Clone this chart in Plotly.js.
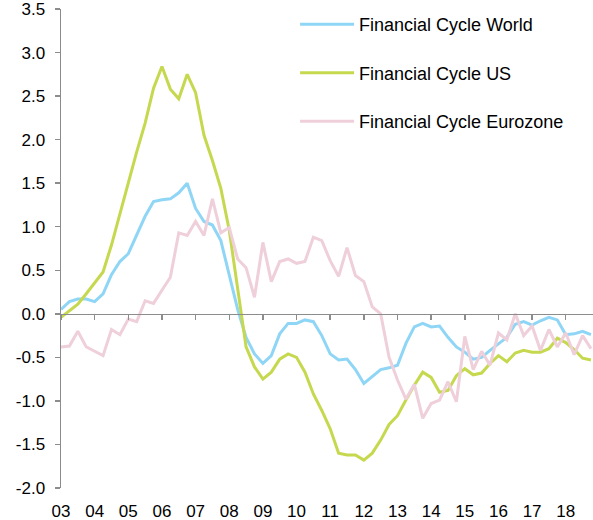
<!DOCTYPE html>
<html>
<head>
<meta charset="utf-8">
<script src="https://cdn.plot.ly/plotly-3.0.1.min.js"></script>
<style>
	html, body { margin: 0; padding: 0; background: #fff; }
	#plotDiv { width: 593px; height: 520px; }
</style>
</head>
<body>
<div id="plotDiv"></div>
<script>
// Quarterly readings, 2003Q1 .. 2018Q4
const startYear = 2003;
const yearLabels = ["03", "04", "05", "06", "07", "08", "09", "10", "11", "12", "13", "14", "15", "16", "17", "18"];
const yTickVals = [-2, -1.5, -1, -0.5, 0, 0.5, 1, 1.5, 2, 2.5, 3, 3.5];

const cycleWorld = [
	0.05, 0.14, 0.17, 0.17,
	0.14, 0.23, 0.45, 0.6,
	0.69, 0.9, 1.12, 1.29,
	1.31, 1.32, 1.39, 1.5,
	1.21, 1.06, 1.02, 0.84,
	0.46, 0.05, -0.27, -0.46,
	-0.57, -0.48, -0.23, -0.11,
	-0.11, -0.07, -0.09, -0.25,
	-0.46, -0.53, -0.52, -0.64,
	-0.8, -0.72, -0.64, -0.62,
	-0.59, -0.34, -0.15, -0.11,
	-0.15, -0.14, -0.27, -0.38,
	-0.44, -0.52, -0.5, -0.42,
	-0.34, -0.27, -0.12, -0.09,
	-0.13, -0.08, -0.04, -0.07,
	-0.24, -0.23, -0.2, -0.24,
];

const cycleUS = [
	-0.04, 0.03, 0.11, 0.23,
	0.35, 0.48, 0.79, 1.15,
	1.5, 1.86, 2.19, 2.59,
	2.84, 2.58, 2.47, 2.75,
	2.54, 2.05, 1.76, 1.44,
	0.96, 0.3, -0.38, -0.61,
	-0.75, -0.67, -0.52, -0.46,
	-0.5, -0.67, -0.92, -1.11,
	-1.32, -1.6, -1.62, -1.62,
	-1.68, -1.6, -1.45, -1.27,
	-1.17, -0.99, -0.82, -0.67,
	-0.73, -0.9, -0.88, -0.71,
	-0.63, -0.7, -0.68, -0.57,
	-0.48, -0.55, -0.45, -0.42,
	-0.44, -0.44, -0.4, -0.28,
	-0.33, -0.41, -0.51, -0.53,
];

const cycleEurozone = [
	-0.38, -0.37, -0.2, -0.38,
	-0.43, -0.48, -0.18, -0.24,
	-0.06, -0.09, 0.15, 0.12,
	0.27, 0.42, 0.93, 0.9,
	1.06, 0.9, 1.32, 0.93,
	0.99, 0.63, 0.53, 0.19,
	0.82, 0.37, 0.6, 0.63,
	0.58, 0.6, 0.88, 0.84,
	0.61, 0.43, 0.76, 0.44,
	0.37, 0.08, 0.0, -0.5,
	-0.76, -0.98, -0.81, -1.2,
	-1.03, -0.99, -0.78, -1.01,
	-0.26, -0.64, -0.43, -0.59,
	-0.22, -0.3, 0.0, -0.25,
	-0.14, -0.42, -0.18, -0.38,
	-0.22, -0.47, -0.25, -0.4,
];

const quarters = cycleWorld.map((_, i) => startYear + i * 0.25);
const yearTicks = yearLabels.map((_, i) => startYear + i);

const xRange = [2003, 2018.81];
const yRange = [-2, 3.5];
const axisGrey = "#8c8c8c";
const fontFamily = "Liberation Sans, Arial, sans-serif";

function seriesTrace(name, values, color) {
	return {
		x: quarters,
		y: values,
		type: "scatter",
		mode: "lines",
		name: name,
		legendgroup: name,
		line: { color: color, width: 3 },
		hoverinfo: "skip",
	};
}

const plotData = [
	seriesTrace("Financial Cycle World", cycleWorld, "#8fd6f6"),
	seriesTrace("Financial Cycle US", cycleUS, "#c6d84e"),
	seriesTrace("Financial Cycle Eurozone", cycleEurozone, "#efcfd9"),
	// empty trace so the axis drawn along y = 0 exists
	{ x: [], y: [], type: "scatter", mode: "lines", xaxis: "x2", showlegend: false },
];

// paper position of y = 0 for the crossing axis
const zeroPos = (0 - yRange[0]) / (yRange[1] - yRange[0]);

const layout = {
	width: 593,
	height: 520,
	margin: { l: 61, r: 0, t: 9, b: 32 },
	paper_bgcolor: "#ffffff",
	plot_bgcolor: "#ffffff",
	font: { family: fontFamily, color: "#000000", size: 17 },
	showlegend: true,
	xaxis: {
		range: xRange,
		tickvals: yearTicks,
		ticktext: yearLabels,
		ticks: "outside",
		ticklen: 8,
		tickcolor: "rgba(0,0,0,0)",
		showline: false,
		showgrid: false,
		zeroline: false,
		tickfont: { size: 17 },
		fixedrange: true,
	},
	xaxis2: {
		range: xRange,
		overlaying: "x",
		anchor: "free",
		position: zeroPos,
		tickvals: yearTicks,
		showticklabels: false,
		ticks: "outside",
		ticklen: 5,
		tickwidth: 1.5,
		tickcolor: axisGrey,
		showline: true,
		linecolor: axisGrey,
		linewidth: 1.5,
		showgrid: false,
		zeroline: false,
	},
	yaxis: {
		range: yRange,
		tickvals: yTickVals,
		ticktext: yTickVals.map((v) => v.toFixed(1)),
		ticks: "outside",
		ticklen: 5,
		tickwidth: 1.5,
		tickcolor: axisGrey,
		ticklabelstandoff: 6,
		ticklabeloverflow: "allow",
		showline: true,
		linecolor: axisGrey,
		linewidth: 1.5,
		showgrid: false,
		zeroline: false,
		tickfont: { size: 17 },
		fixedrange: true,
	},
	legend: {
		x: 0.44,
		xanchor: "left",
		y: 1.006,
		yanchor: "top",
		bgcolor: "rgba(0,0,0,0)",
		font: { size: 18 },
		itemwidth: 54,
		tracegroupgap: 22,
		traceorder: "grouped",
	},
};

Plotly.newPlot("plotDiv", plotData, layout, { displayModeBar: false, staticPlot: true });
</script>
</body>
</html>
